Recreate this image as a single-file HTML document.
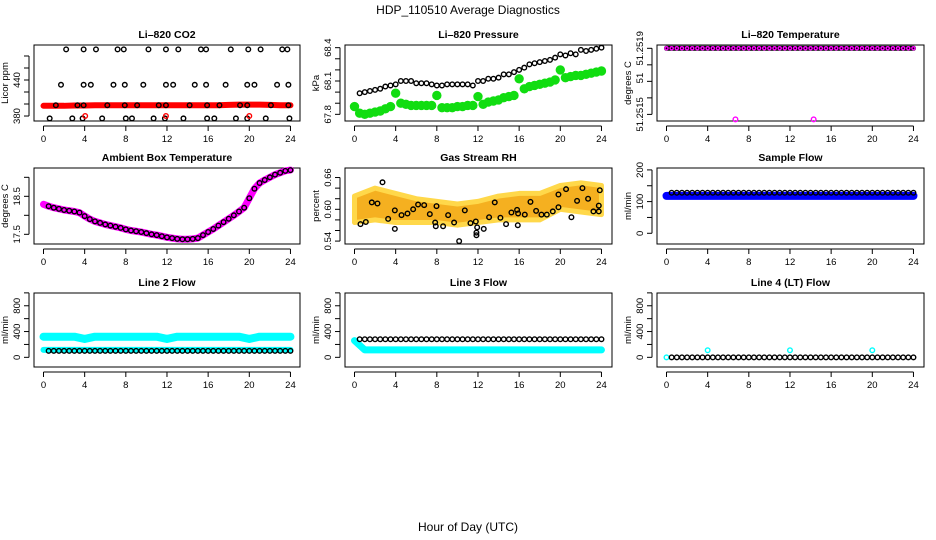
<!DOCTYPE html>
<html><head><meta charset="utf-8"><style>
html,body{margin:0;padding:0;background:#fff;}
svg{display:block;font-family:"Liberation Sans",Arial,sans-serif;}
</style></head><body>
<svg id="chart" width="936" height="540" viewBox="0 0 936 540" xmlns="http://www.w3.org/2000/svg">
<text x="468" y="14" text-anchor="middle" font-size="12">HDP_110510  Average Diagnostics</text>
<text x="468" y="531" text-anchor="middle" font-size="12">Hour of Day (UTC)</text>
</svg>
<script>
// ---- data ----
const xTicks=[0,4,8,12,16,20,24];
const halfHours=[];for(let i=0;i<=48;i++)halfHours.push(i/2);
const hours=[];for(let i=0;i<=24;i++)hours.push(i);
// CO2
const co2Top=[2.2,3.9,5.1,7.2,7.8,10.2,11.9,13.1,15.3,15.8,18.2,19.9,21.1,23.2,23.7];
const co2Mid=[1.7,3.9,4.6,6.8,7.9,9.7,11.9,12.6,14.7,15.8,17.7,19.8,20.5,22.7,23.8];
const co2Low=[1.2,3.3,3.9,6.2,7.9,9.1,11.2,11.9,14.2,15.9,17.1,19.1,19.8,22.1,23.8];
const co2Bot=[0.6,2.8,3.8,5.7,8.0,8.6,10.7,11.8,13.6,15.9,16.6,18.7,19.8,21.6,23.9];
const co2Levels=[491,432,398,376];
const co2RedDots=[4.05,11.9,20.0];
const co2Red=[397,397,397,397.5,397.5,398,398,398,398,398,398,398,398,398,398,398,398,398,398.5,399,399,399,398.5,398,398];
// Pressure
const presBlack=[67.99,67.99,68.0,68.01,68.02,68.03,68.05,68.06,68.07,68.1,68.1,68.1,68.08,68.08,68.08,68.07,68.06,68.06,68.07,68.07,68.07,68.07,68.07,68.06,68.1,68.1,68.12,68.12,68.13,68.16,68.16,68.18,68.2,68.22,68.25,68.26,68.27,68.28,68.29,68.31,68.34,68.33,68.35,68.34,68.38,68.37,68.38,68.39,68.4];
const presGreen=[67.87,67.81,67.8,67.81,67.82,67.83,67.85,67.87,67.99,67.9,67.89,67.88,67.88,67.88,67.88,67.88,67.97,67.86,67.86,67.86,67.87,67.87,67.88,67.88,67.96,67.89,67.91,67.92,67.93,67.95,67.96,67.97,68.12,68.03,68.05,68.06,68.07,68.08,68.09,68.11,68.2,68.13,68.14,68.15,68.15,68.16,68.17,68.18,68.19];
// Li-820 temp
const tempMain=51.2519;
const tempOutHours=[6.7,14.3];
const tempOutVal=51.25147;
// Ambient
const ambient=[18.29,18.24,18.2,18.17,18.14,18.12,18.1,18.07,17.98,17.9,17.84,17.8,17.76,17.73,17.7,17.67,17.63,17.6,17.58,17.56,17.53,17.5,17.48,17.45,17.42,17.4,17.38,17.37,17.37,17.38,17.4,17.48,17.56,17.64,17.73,17.82,17.91,18.0,18.1,18.2,18.45,18.7,18.85,18.93,19.0,19.07,19.12,19.17,19.19];
// RH
const rhBandHours=[0,2,4,6,8,10,12,14,16,18,20,22,24];
const rhLow=[0.575,0.58,0.575,0.575,0.575,0.57,0.575,0.58,0.58,0.58,0.6,0.595,0.59];
const rhHigh=[0.625,0.64,0.63,0.62,0.615,0.61,0.615,0.625,0.63,0.63,0.645,0.65,0.645];
const rhX=[0.58,1.10,1.68,2.23,2.72,3.27,3.92,3.92,4.57,5.15,5.70,6.18,6.77,7.32,7.84,7.90,7.97,8.61,9.10,9.68,10.17,10.72,11.27,11.79,11.92,11.85,11.85,12.56,13.08,13.63,14.18,14.73,15.25,15.80,15.90,15.87,16.55,17.10,17.65,18.17,18.69,19.27,19.82,19.82,20.56,21.08,21.63,22.15,22.70,23.22,23.74,23.84,23.74];
const rhY=[0.572,0.576,0.613,0.611,0.651,0.582,0.598,0.563,0.589,0.592,0.600,0.609,0.608,0.591,0.575,0.568,0.606,0.568,0.589,0.575,0.540,0.598,0.574,0.577,0.566,0.556,0.551,0.563,0.585,0.613,0.584,0.572,0.594,0.599,0.592,0.570,0.590,0.614,0.597,0.590,0.590,0.596,0.628,0.604,0.638,0.585,0.616,0.640,0.620,0.596,0.596,0.636,0.607];
// flows
const sampleBlack=128, sampleBlue=118;
const line2Cyan=[320,320,320,320,285,320,320,320,320,320,320,320,285,320,320,320,320,320,320,320,285,320,320,320,320];
const line2CyanLow=115, line2Black=100;
const line3Black=280, line3Cyan=[260,115,115,115,115,115,115,115,115,115,115,115,115,115,115,115,115,115,115,115,115,115,115,115,115];
const line4Black=0, line4Cyan=0, line4SpikeHours=[4,12,20], line4Spike=110;

// ---- layout ----
const svg=document.getElementById('chart');
const NS='http://www.w3.org/2000/svg';
const colL=[34,345,657], colR=[300,612,924];
const rowT=[45,168,293], rowB=[121,244,367];
function mk(tag,attrs,parent){const e=document.createElementNS(NS,tag);for(const k in attrs)e.setAttribute(k,attrs[k]);(parent||svg).appendChild(e);return e;}

function panel(c,r,title,ylab,ymin,ymax,yTicks,yLabels,name){
  const g=mk('g',{});
  
  
  const L=colL[c],R=colR[c],T=rowT[r],B=rowB[r];
  const X=h=>L+9.5+h*10.29;
  const Y=v=>B-(v-ymin)/(ymax-ymin)*(B-T);
  const box=mk('rect',{x:L,y:T,width:R-L,height:B-T,fill:'none',stroke:'#000','stroke-width':1},g);
  
  
  const t=mk('text',{x:(L+R)/2,y:T-7,'text-anchor':'middle','font-size':10.5,'font-weight':'bold'},g);t.textContent=title;
  
  
  const xa=mk('g',{},g);
  
  
  mk('line',{x1:X(0),x2:X(24),y1:B+5,y2:B+5,stroke:'#000'},xa);
  xTicks.forEach(h=>{mk('line',{x1:X(h),x2:X(h),y1:B+5,y2:B+10,stroke:'#000'},xa);
    const tl=mk('text',{x:X(h),y:B+21,'text-anchor':'middle','font-size':9.5},xa);tl.textContent=h;});
  const ya=mk('g',{},g);
  
  
  mk('line',{x1:L-5,x2:L-5,y1:Y(yTicks[0]),y2:Y(yTicks[yTicks.length-1]),stroke:'#000'},ya);
  yTicks.forEach(v=>mk('line',{x1:L-10,x2:L-5,y1:Y(v),y2:Y(v),stroke:'#000'},ya));
  yLabels.forEach(v=>{const yy=Y(v[0]);const tl=mk('text',{x:L-14,y:yy,'text-anchor':'middle','font-size':9.5,transform:`rotate(-90 ${L-14} ${yy})`},ya);tl.textContent=v[1];});
  const yl=mk('text',{x:L-26,y:(T+B)/2,'text-anchor':'middle','font-size':9.5,transform:`rotate(-90 ${L-26} ${(T+B)/2})`},g);yl.textContent=ylab;
  
  
  return {g,X,Y};
}
function pt(p,h,v,col,r,fill,name){const e=mk('circle',{cx:p.X(h),cy:p.Y(v),r:r||2.3,fill:fill||'none',stroke:col,'stroke-width':1.4},p.g);
  
  return e;}
function band(p,hs,vs,col,w,name){const e=mk('polyline',{points:hs.map((h,i)=>p.X(h)+','+p.Y(vs[i])).join(' '),fill:'none',stroke:col,'stroke-width':w,'stroke-linejoin':'round','stroke-linecap':'round'},p.g);
  
  return e;}

// Panel 1 CO2
let p=panel(0,0,'Li\u2013820 CO2','Licor ppm',371.7,498.3,[380,400,420,440,460,480],[[380,'380'],[440,'440']],'co2');
band(p,hours,co2Red,'#f00',6,'co2-red-series');
[co2Top,co2Mid,co2Low,co2Bot].forEach((arr,i)=>arr.forEach(h=>pt(p,h,co2Levels[i],'#000',2.3,'none','co2-point')));
co2RedDots.forEach(h=>pt(p,h,380,'#f00',2.3,'none','co2-red-point'));

// Panel 2 pressure
p=panel(1,0,'Li\u2013820 Pressure','kPa',67.74,68.424,[67.8,67.9,68.0,68.1,68.2,68.3,68.4],[[67.8,'67.8'],[68.1,'68.1'],[68.4,'68.4']],'pressure');
presGreen.forEach((v,i)=>pt(p,halfHours[i],v,'#1d1',4.0,'#1d1','pressure-green-point'));
presBlack.forEach((v,i)=>{if(i>0)pt(p,halfHours[i],v,'#000',2.3,'none','pressure-black-point');});

// Panel 3 Li-820 temperature
p=panel(2,0,'Li\u2013820 Temperature','degrees C',51.25146,51.25192,[51.2515,51.2516,51.2517,51.2518,51.2519],[[51.2519,'51.2519'],[51.25172,'51'],[51.2515,'51.2515']],'li820-temp');
band(p,[0,24],[tempMain,tempMain],'#000',5,'temp-black-series');
halfHours.forEach(h=>pt(p,h,tempMain,'#f0f',1.6,'none','temp-magenta-point'));
tempOutHours.forEach(h=>pt(p,h,tempOutVal,'#f0f',2.3,'none','temp-outlier'));

// Panel 4 ambient
p=panel(0,1,'Ambient Box Temperature','degrees C',17.245,19.245,[17.5,18,18.5,19],[[17.5,'17.5'],[18.5,'18.5']],'ambient');
band(p,halfHours,ambient,'#f0f',7,'ambient-magenta-series');
ambient.forEach((v,i)=>{if(i>0)pt(p,halfHours[i],v,'#000',2.3,'none','ambient-point');});

// Panel 5 RH
p=panel(1,1,'Gas Stream RH','percent',0.5345,0.678,[0.54,0.56,0.58,0.60,0.62,0.64,0.66],[[0.54,'0.54'],[0.60,'0.60'],[0.66,'0.66']],'rh');
{const pts=rhBandHours.map((h,i)=>p.X(h)+','+p.Y(rhHigh[i])).concat(rhBandHours.slice().reverse().map((h,i)=>p.X(h)+','+p.Y(rhLow[rhLow.length-1-i])));
 const e=mk('polygon',{points:pts.join(' '),fill:'#f5b020',stroke:'#ffd84a','stroke-width':5,'stroke-linejoin':'round'},p.g);
 
 }
rhX.forEach((h,i)=>pt(p,h,rhY[i],'#000',2.3,'none','rh-black-point'));

// Panel 6 sample flow
p=panel(2,1,'Sample Flow','ml/min',-33.8,206,[0,50,100,150,200],[[0,'0'],[100,'100'],[200,'200']],'sample-flow');
band(p,[0,24],[sampleBlue,sampleBlue],'#00f',8,'sample-blue-series');
halfHours.forEach((h,i)=>{if(i>0)pt(p,h,sampleBlack,'#000',2.3,'none','sample-black-point');});

// Row 3
const flowTicks=[0,200,400,600,800,1000], flowLabels=[[0,'0'],[400,'400'],[800,'800']];
p=panel(0,2,'Line 2 Flow','ml/min',-150,998,flowTicks,flowLabels,'line2');
band(p,hours,line2Cyan,'#0ff',8,'line2-cyan-high');
band(p,[0,24],[line2CyanLow,line2CyanLow],'#0ff',6,'line2-cyan-low');
halfHours.forEach((h,i)=>{if(i>0)pt(p,h,line2Black,'#000',2.3,'none','line2-black-point');});

p=panel(1,2,'Line 3 Flow','ml/min',-150,998,flowTicks,flowLabels,'line3');
band(p,hours,line3Cyan,'#0ff',7,'line3-cyan-series');
halfHours.forEach((h,i)=>{if(i>0)pt(p,h,line3Black,'#000',2.3,'none','line3-black-point');});

p=panel(2,2,'Line 4 (LT) Flow','ml/min',-150,998,flowTicks,flowLabels,'line4');
pt(p,0,line4Cyan,'#0ff',2.3,'none','line4-cyan-point');
halfHours.forEach((h,i)=>{if(i>0)pt(p,h,line4Black,'#000',2.3,'none','line4-black-point');});
line4SpikeHours.forEach(h=>pt(p,h,line4Spike,'#0ff',2.3,'none','line4-cyan-spike'));
</script>
</body></html>
